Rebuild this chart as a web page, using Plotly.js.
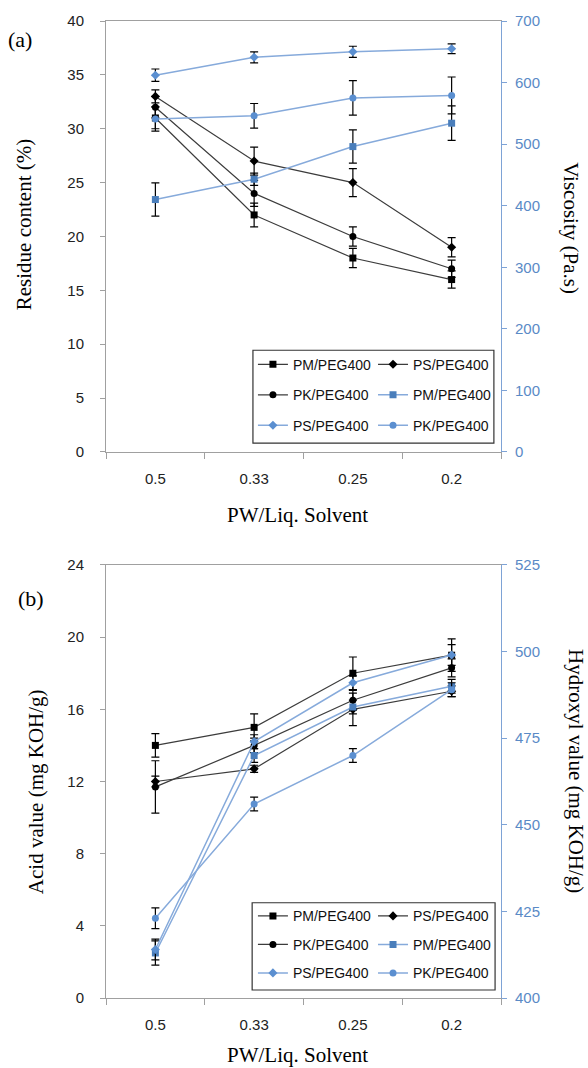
<!DOCTYPE html>
<html><head><meta charset="utf-8">
<script src="https://cdn.plot.ly/plotly-3.0.1.min.js"></script>
<style>html,body{margin:0;padding:0;background:#fff}#chart{width:588px;height:1068px}</style>
</head><body><div id="chart"></div>
<script>
// categories
const ratios = ['0.5', '0.33', '0.25', '0.2'];
// Panel (a) residue content (%)
const pmResidue = [31, 22, 18, 16];
const pmResidueErr = [1.0, 1.1, 0.9, 0.8];
const psResidue = [33, 27, 25, 19];
const psResidueErr = [0.6, 1.3, 1.3, 0.9];
const pkResidue = [32, 24, 20, 17];
const pkResidueErr = [1.0, 1.2, 0.9, 0.8];
// Panel (a) viscosity (Pa.s)
const pmVisc = [410, 443, 496, 534];
const pmViscErr = [27, 10, 27, 28];
const psVisc = [612, 641, 650, 655];
const psViscErr = [10, 9, 9, 8];
const pkVisc = [541, 546, 575, 579];
const pkViscErr = [20, 20, 28, 30];
// Panel (b) acid value (mg KOH/g)
const pmAcid = [14, 15, 18, 19];
const pmAcidErr = [0.65, 0.75, 0.9, 0.9];
const psAcid = [12, 12.7, 16.0, 17.0];
const psAcidErr = [0.3, 0.2, 0.9, 0.3];
const pkAcid = [11.7, 14.0, 16.5, 18.3];
const pkAcidErr = [1.45, 0.4, 0.55, 0.5];
// Panel (b) hydroxyl value (mg KOH/g)
const pmHyd = [413, 470, 484, 490];
const pmHydErr = [3.5, 2, 2, 2];
const psHyd = [414, 474, 491, 499];
const psHydErr = [3, 2, 2, 3];
const pkHyd = [423, 456, 470, 489];
const pkHydErr = [3, 2, 2, 2];
const seriesName = ['PM/PEG400', 'PS/PEG400', 'PK/PEG400'];

const BLK_LINE = '#3c3c3c', BLUE_LINE = '#86aadb', BLUE_MK = '#4a7ebb', BLUE_MK2 = '#5b8fd0';
const TICKF = 'Liberation Sans, Arial, sans-serif';
const SERIF = 'Liberation Serif, Times New Roman, serif';

function tr(y, err, name, sym, size, lineColor, mkColor, xa, ya, leg, grp) {
  return {
    type: 'scatter', mode: 'lines+markers', x: ratios, y: y, name: name,
    xaxis: xa, yaxis: ya, legend: leg, legendgroup: grp,
    line: {color: lineColor, width: lineColor === BLK_LINE ? 1.2 : 1.5},
    marker: {symbol: sym, size: size, color: mkColor},
    error_y: {type: 'data', array: err, visible: true, color: '#000', thickness: 1.2, width: 4},
    cliponaxis: false
  };
}

const data = [
  tr(pmResidue, pmResidueErr, seriesName[0], 'square', 7, BLK_LINE, '#000', 'x', 'y', 'legend', 'a1'),
  tr(psResidue, psResidueErr, seriesName[1], 'diamond', 7, BLK_LINE, '#000', 'x', 'y', 'legend2', 'a2'),
  tr(pkResidue, pkResidueErr, seriesName[2], 'circle', 7, BLK_LINE, '#000', 'x', 'y', 'legend', 'a3'),
  tr(pmVisc, pmViscErr, seriesName[0], 'square', 7, BLUE_LINE, BLUE_MK, 'x', 'y2', 'legend2', 'a4'),
  tr(psVisc, psViscErr, seriesName[1], 'diamond', 7, BLUE_LINE, BLUE_MK2, 'x', 'y2', 'legend', 'a5'),
  tr(pkVisc, pkViscErr, seriesName[2], 'circle', 7, BLUE_LINE, BLUE_MK2, 'x', 'y2', 'legend2', 'a6'),
  tr(pmAcid, pmAcidErr, seriesName[0], 'square', 7, BLK_LINE, '#000', 'x2', 'y3', 'legend3', 'b1'),
  tr(psAcid, psAcidErr, seriesName[1], 'diamond', 7, BLK_LINE, '#000', 'x2', 'y3', 'legend4', 'b2'),
  tr(pkAcid, pkAcidErr, seriesName[2], 'circle', 7, BLK_LINE, '#000', 'x2', 'y3', 'legend3', 'b3'),
  tr(pmHyd, pmHydErr, seriesName[0], 'square', 7, BLUE_LINE, BLUE_MK, 'x2', 'y4', 'legend4', 'b4'),
  tr(psHyd, psHydErr, seriesName[1], 'diamond', 7, BLUE_LINE, BLUE_MK2, 'x2', 'y4', 'legend3', 'b5'),
  tr(pkHyd, pkHydErr, seriesName[2], 'circle', 7, BLUE_LINE, BLUE_MK2, 'x2', 'y4', 'legend4', 'b6')
];

const GREY = '#a0a0a0', BLUE_AX = '#7ea3d6', BLUE_TXT = '#5a8ac6';
function xax(anchor) {
  return {type: 'category', anchor: anchor, range: [-0.5, 3.5], tickson: 'boundaries',
    ticks: 'outside', ticklen: 6, tickcolor: GREY, showline: true, linecolor: GREY, linewidth: 1,
    mirror: true, showgrid: false, zeroline: false, fixedrange: true,
    tickfont: {family: TICKF, size: 15, color: '#222'}, ticklabelstandoff: 13};
}
function yl(domain, range, dtick, anchor) {
  return {domain: domain, anchor: anchor, range: range, dtick: dtick, ticks: 'outside', ticklen: 5,
    tickcolor: GREY, showline: true, linecolor: GREY, showgrid: false, zeroline: false,
    tickfont: {family: TICKF, size: 15, color: '#222'}, ticklabelstandoff: 13};
}
function yr(over, range, dtick, anchor) {
  return {overlaying: over, side: 'right', anchor: anchor, range: range, dtick: dtick, ticks: 'outside', ticklen: 5,
    tickcolor: BLUE_AX, showline: true, linecolor: BLUE_AX, showgrid: false, zeroline: false,
    tickfont: {family: TICKF, size: 15, color: BLUE_TXT}, ticklabelstandoff: 5};
}
function leg(x, y, gap) {
  return {x: x, y: y, xanchor: 'left', yanchor: 'top', orientation: 'v', bgcolor: 'rgba(0,0,0,0)',
    borderwidth: 0, tracegroupgap: gap, itemwidth: 30,
    font: {family: TICKF, size: 14, color: '#111'}};
}
function ann(text, x, y, angle, size) {
  return {text: text, x: x, y: y, xref: 'paper', yref: 'paper', showarrow: false, textangle: angle,
    xanchor: 'center', yanchor: 'middle', font: {family: SERIF, size: size, color: '#000'}};
}
const layout = {
  width: 588, height: 1068, margin: {l: 106, r: 87, t: 21, b: 70},
  paper_bgcolor: '#fff', plot_bgcolor: 'rgba(0,0,0,0)', showlegend: true,
  xaxis: xax('y'), xaxis2: xax('y3'),
  yaxis: yl([0.5589, 1], [0, 40], 5, 'x'),
  yaxis2: yr('y', [0, 700], 100, 'x'),
  yaxis3: yl([0, 0.4432], [0, 24], 4, 'x2'),
  yaxis4: yr('y3', [400, 525], 25, 'x2'),
  legend: leg(0.372, 0.6646, 9.3), legend2: leg(0.676, 0.6646, 9.3),
  legend3: leg(0.372, 0.1, 7.3), legend4: leg(0.676, 0.1, 7.3),
  shapes: [
    {type: 'rect', xref: 'paper', yref: 'paper', x0: 0.372, x1: 0.982, y0: 0.568, y1: 0.663,
      line: {color: '#333', width: 1.2}, fillcolor: '#fff', layer: 'below'},
    {type: 'rect', xref: 'paper', yref: 'paper', x0: 0.370, x1: 0.985, y0: 0.0082, y1: 0.0975,
      line: {color: '#333', width: 1.2}, fillcolor: '#fff', layer: 'below'}
  ],
  annotations: [
    ann('(a)', -0.2177, 0.9806, 0, 22),
    ann('Residue content (%)', -0.2076, 0.792, -90, 21),
    ann('Viscosity (Pa.s)', 1.177, 0.788, 90, 21),
    ann('PW/Liq. Solvent', 0.485, 0.4944, 0, 21),
    ann('(b)', -0.19, 0.4084, 0, 22),
    ann('Acid value (mg KOH/g)', -0.177, 0.2108, -90, 21),
    ann('Hydroxyl value (mg KOH/g)', 1.19, 0.2323, 90, 21),
    ann('PW/Liq. Solvent', 0.485, -0.0583, 0, 21)
  ]
};
Plotly.newPlot('chart', data, layout, {displayModeBar: false, staticPlot: true});
</script></body></html>
